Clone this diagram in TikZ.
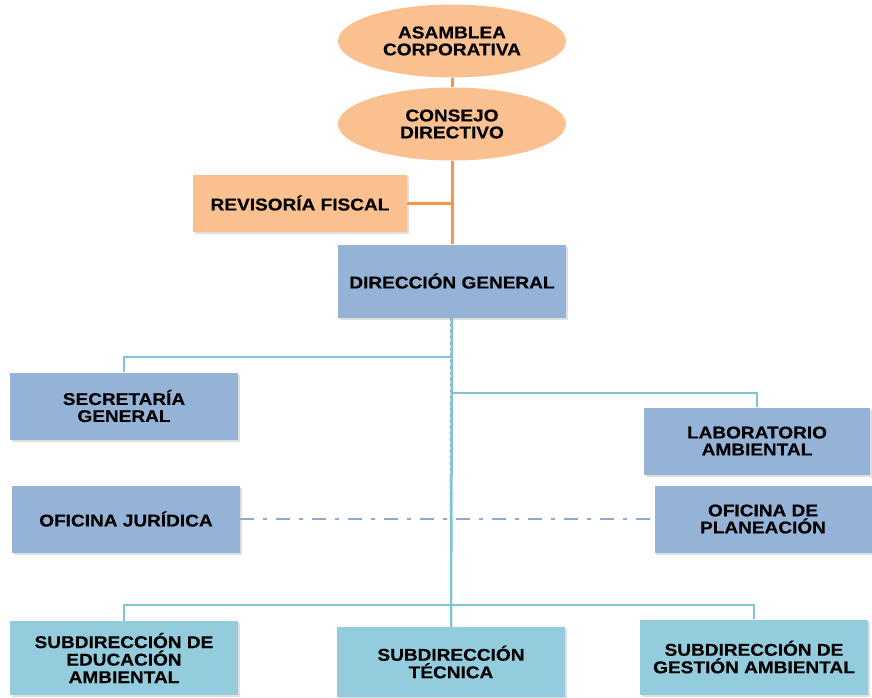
\documentclass[tikz,border=0pt]{standalone}
\usepackage{fontspec}
\setmainfont{Liberation Sans}
\newfontfamily\orgfont[FakeStretch=1.12, FakeBold=0.4]{Liberation Sans}
\usepackage{xcolor}
\usetikzlibrary{shapes.geometric, positioning, shadows}

\definecolor{peach}{HTML}{FAC090}
\definecolor{peachline}{HTML}{F79646}
\definecolor{steel}{HTML}{95B3D7}
\definecolor{aqua}{HTML}{93CDDD}
\definecolor{aqualine}{HTML}{7CC4D6}
\definecolor{dashline}{HTML}{8EA9D0}

\begin{document}
\begin{tikzpicture}[
    x=1pt, y=-1pt,
    unit/.style={rectangle, minimum width=228pt, minimum height=67pt, align=center, inner sep=2pt,
        font=\orgfont\bfseries\fontsize{17}{17}\selectfont,
        drop shadow={shadow xshift=1.5pt, shadow yshift=-2pt, opacity=.25}},
    board_unit/.style={ellipse, fill=peach, minimum width=228pt, minimum height=73pt, align=center, inner sep=1pt,
        font=\orgfont\bfseries\fontsize{17}{17}\selectfont},
    staff_unit/.style={unit, fill=steel},
    sub_unit/.style={unit, fill=aqua, minimum height=73pt, font=\orgfont\bfseries\fontsize{17}{17.5}\selectfont},
    board_link/.style={draw=peachline, line width=3pt},
    org_link/.style={draw=aqualine, line width=2.5pt},
    staff_link/.style={draw=dashline, line width=2.5pt, dash pattern=on 14pt off 9pt on 4pt off 9pt}
]
\useasboundingbox (0,0) rectangle (872,697);

% Board
\node[board_unit] (asamblea) at (452,41) {ASAMBLEA\\CORPORATIVA};
\node[board_unit] (consejo) at (452,124) {CONSEJO\\DIRECTIVO};
\node[unit, fill=peach, minimum width=214pt, minimum height=57pt] (revisoria) at (300,203) {REVISORÍA FISCAL};

% Direction and staff
\node[staff_unit, minimum height=73pt] (direccion) at (452,281) {DIRECCIÓN GENERAL};
\node[staff_unit] (secretaria) at (124,406) {SECRETARÍA\\GENERAL};
\node[staff_unit, minimum width=226pt] (laboratorio) at (757,441) {LABORATORIO\\AMBIENTAL};
\node[staff_unit] (juridica) at (126,519) {OFICINA JURÍDICA};
\node[staff_unit, minimum width=217pt] (planeacion) at (763,519) {OFICINA DE\\PLANEACIÓN};

% Subdirections
\node[sub_unit, minimum height=74pt] (educacion) at (124,658) {SUBDIRECCIÓN DE\\EDUCACIÓN\\AMBIENTAL};
\node[sub_unit, minimum height=70pt] (tecnica) at (451,662) {SUBDIRECCIÓN\\TÉCNICA};
\node[sub_unit, minimum height=75pt] (gestion) at (754,657) {SUBDIRECCIÓN DE\\GESTIÓN AMBIENTAL};

% Links
\coordinate (fiscal_tap) at (452,203);
\coordinate (sec_tap) at (452,357);
\coordinate (lab_tap) at (452,393);
\coordinate (sub_tap) at (452,605);
\coordinate (staff_tap) at (450,519);

\draw[board_link] (asamblea.south) -- (consejo.north);
\draw[board_link] (consejo.south) -- (direccion.north);
\draw[board_link] (revisoria.east) -- (fiscal_tap);

\draw[gray!70, line width=1pt, dashed] ([xshift=-1.5pt]direccion.south) -- (staff_tap);
\draw[org_link] (direccion.south) -- (tecnica.north);
\draw[org_link] (sec_tap) -| (secretaria.north);
\draw[org_link] (lab_tap) -| (laboratorio.north);
\draw[org_link] (sub_tap) -| (educacion.north);
\draw[org_link] (sub_tap) -| (gestion.north);
\draw[staff_link] (juridica.east) -- (planeacion.west);

\end{tikzpicture}
\end{document}
